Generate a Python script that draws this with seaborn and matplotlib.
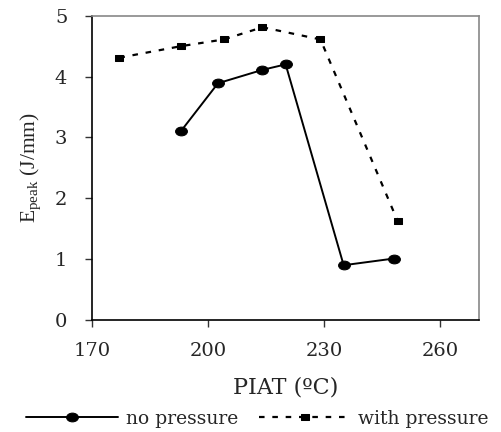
import pandas as pd
import matplotlib
matplotlib.use('Agg')
import matplotlib.pyplot as plt
from matplotlib.path import Path
from matplotlib.transforms import Affine2D
import seaborn as sns

# data
piat_no = [193, 202.5, 214, 220, 235, 248]
epeak_no = [3.11, 3.89, 4.11, 4.20, 0.90, 1.01]

piat_with = [177, 193, 204, 214, 229, 249]
epeak_with = [4.31, 4.50, 4.61, 4.81, 4.61, 1.62]

xticks = [170, 200, 230, 260]
yticks = [0, 1, 2, 3, 4, 5]

no_df = pd.DataFrame({'PIAT': piat_no, 'Epeak': epeak_no})
with_df = pd.DataFrame({'PIAT': piat_with, 'Epeak': epeak_with})

sns.set_style('white')
plt.rcParams['font.family'] = ['DejaVu Serif']
plt.rcParams['mathtext.fontset'] = 'custom'
plt.rcParams['mathtext.rm'] = 'Liberation Serif'

# the original picture is stretched sideways, so markers are a bit wide
wide_circle = Path.unit_circle().transformed(Affine2D().scale(1.35, 1))
wide_square = Path([(-1.45, -1), (1.45, -1), (1.45, 1), (-1.45, 1), (-1.45, -1)],
                   [Path.MOVETO, Path.LINETO, Path.LINETO, Path.LINETO, Path.CLOSEPOLY])

fig = plt.figure(figsize=(5.01, 4.32), dpi=100)
ax = fig.add_axes([92.3 / 501, 1 - 320 / 432, (479 - 92.3) / 501, (320 - 15.7) / 432])

sns.lineplot(data=no_df, x='PIAT', y='Epeak', ax=ax, color='black', lw=1.4,
             marker=wide_circle, markersize=8.5, markeredgecolor='black', label='no pressure')
sns.lineplot(data=with_df, x='PIAT', y='Epeak', ax=ax, color='black', lw=1.6,
             linestyle=(0, (2.5, 3.5)), marker=wide_square, markersize=6,
             markeredgecolor='black', label='with pressure')

ax.set_xlim(170, 270)
ax.set_ylim(0, 5)
ax.set_xticks(xticks)
ax.set_yticks(yticks)
ax.tick_params(axis='both', which='both', direction='out', length=5, width=1,
               color='#333333', labelsize=14, left=True, bottom=True)
ax.tick_params(axis='x', pad=11)
ax.tick_params(axis='y', pad=13)
for s in ['left', 'bottom']:
    ax.spines[s].set_color('black')
    ax.spines[s].set_linewidth(1.2)
for s in ['top', 'right']:
    ax.spines[s].set_color('#888888')
    ax.spines[s].set_linewidth(1.2)

ax.set_xlabel('PIAT (ºC)', fontsize=16, labelpad=12)
ax.set_ylabel(r'E$_{\mathrm{peak}}$ (J/mm)', fontsize=15.5, labelpad=8,
              family='Liberation Serif')

leg = ax.legend(loc='center', bbox_to_anchor=((257.5 - 92.3) / 386.7, (320 - 419) / 304.3),
                ncol=2, frameon=False, fontsize=13.5, handlelength=4.9, columnspacing=1.1,
                handletextpad=0.4)

fig.savefig('out.png', dpi=100)
